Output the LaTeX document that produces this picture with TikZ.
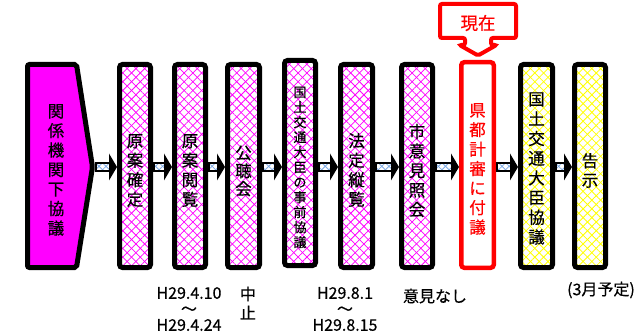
\documentclass[tikz,border=0pt]{standalone}
\usepackage{fontspec}
\setmainfont{Noto Sans CJK JP}[FakeBold=0.5]
\usetikzlibrary{patterns.meta,calc}
\definecolor{mag}{RGB}{255,0,255}
\definecolor{yel}{RGB}{255,255,0}
\definecolor{arrblue}{RGB}{125,170,230}
\newcommand\blockarrow[2]{%
  \coordinate (as) at ($(#1 |- ay)+(1,0)$);
  \coordinate (at) at (#2 |- ay);
  \draw[arrshaft] ($(as)+(0,-3.8)$) rectangle ($(at)+(-7,3.8)$);
  \fill[black] ($(at)+(-8,-13.5)$) -- (at) -- ($(at)+(-8,13.5)$) -- cycle;
}
\begin{document}
\begin{tikzpicture}[x=1pt,y=-1pt,
  patmag/.style={preaction={fill=white},
    preaction={pattern={Lines[angle=45,distance=6.2pt,line width=0.75pt]},pattern color=mag},
    preaction={pattern={Lines[angle=-45,distance=6.2pt,line width=0.75pt]},pattern color=mag}},
  patyel/.style={preaction={fill=white},
    preaction={pattern={Lines[angle=45,distance=6.2pt,line width=0.8pt]},pattern color=yel},
    preaction={pattern={Lines[angle=-45,distance=6.2pt,line width=0.8pt]},pattern color=yel}},
  arrshaft/.style={draw=black,line width=2.5pt,preaction={fill=white},
    preaction={pattern={Lines[angle=45,distance=5pt,line width=0.8pt]},pattern color=arrblue},
    preaction={pattern={Lines[angle=-45,distance=5pt,line width=0.8pt]},pattern color=arrblue}},
  vbox/.style={draw=black,line width=5pt,rounded corners=3pt,minimum width=31pt,
    minimum height=203pt,inner sep=0pt},
  vtxt/.style={inner sep=0pt,align=center,font=\fontsize{16.5pt}{19.5pt}\selectfont},
  lab/.style={inner sep=0pt,align=center,font=\fontsize{16pt}{16pt}\selectfont}
]
\useasboundingbox (0,0) rectangle (644,336);
\coordinate (ay) at (0,167);
% pentagon
\draw[line width=5pt,fill=mag,rounded corners=2pt] (27.5,64.5) -- (76.5,64.5) -- (92.5,167) -- (76.5,267.5) -- (27.5,267.5) -- cycle;
\coordinate (p1tip) at (95,167);
\node[vtxt] (t1) at (56,170) {関\\係\\機\\関\\下\\協\\議};
% boxes
\node[vbox,patmag] (b2) at (135,166) {};
\node[vbox,patmag] (b3) at (190,166) {};
\node[vbox,patmag,minimum width=32pt] (b4) at (243.5,166) {};
\node[vbox,patmag,minimum height=205pt] (b5) at (300,163) {};
\node[vbox,patmag,minimum width=32pt] (b6) at (356.5,166) {};
\node[vbox,patmag] (b7) at (417,166) {};
\node[vbox,draw=red,fill=white,line width=4.5pt,minimum width=32.5pt,minimum height=205.5pt] (b8) at (477.5,165) {};
\node[vbox,patyel,minimum width=32pt] (b9) at (536.5,166) {};
\node[vbox,patyel] (b10) at (590,166) {};
% box texts
\node[vtxt] (t2) at ($(b2.center)+(0,4.5)$) {原\\案\\確\\定};
\node[vtxt] (t3) at ($(b3.center)+(0,4.5)$) {原\\案\\閲\\覧};
\node[vtxt,font=\fontsize{16.5pt}{18pt}\selectfont] (t4) at ($(b4.center)+(0,5)$) {公\\聴\\会};
\node[vtxt,font=\fontsize{13pt}{15pt}\selectfont] (t5) at ($(b5.center)+(0,4.5)$) {国\\土\\交\\通\\大\\臣\\の\\事\\前\\協\\議};
\node[vtxt] (t6) at ($(b6.center)+(0,4)$) {法\\定\\縦\\覧};
\node[vtxt] (t7) at ($(b7.center)+(0,4.5)$) {市\\意\\見\\照\\会};
\node[vtxt,text=red] (t8) at ($(b8.center)+(0,4)$) {県\\都\\計\\審\\に\\付\\議};
\node[vtxt,font=\fontsize{16.5pt}{19.7pt}\selectfont] (t9) at ($(b9.center)+(0,2.5)$) {国\\土\\交\\通\\大\\臣\\協\\議};
\node[vtxt] (t10) at ($(b10.center)+(0,4.5)$) {告\\示};
% arrows
\blockarrow{p1tip}{b2.west}
\blockarrow{b2.east}{b3.west}
\blockarrow{b3.east}{b4.west}
\blockarrow{b4.east}{b5.west}
\blockarrow{b5.east}{b6.west}
\blockarrow{b6.east}{b7.west}
\blockarrow{b7.east}{b8.west}
\blockarrow{b8.east}{b9.west}
\blockarrow{b9.east}{b10.west}
% callout
\draw[red,line width=4pt,fill=white,rounded corners=2pt] (440,4) -- (516,4) -- (516,38) -- (491,38) -- (491,45) -- (496.5,45) -- (478,55.5) -- (459.5,45) -- (465,45) -- (465,38) -- (440,38) -- cycle;
\node[text=red,inner sep=0pt,font=\fontsize{17.5pt}{17.5pt}\selectfont] (now) at (478,23) {現在};
% labels
\node[lab] (d3) at (189,309) {H29.4.10\\〜\\H29.4.24};
\node[lab,font=\fontsize{16pt}{19pt}\selectfont] (d4) at (248,303) {中\\止};
\node[lab] (d6) at (345,309) {H29.8.1\\〜\\H29.8.15};
\node[lab] (d7) at (435,296) {意見なし};
\node[lab] (d10) at (601,290) {(3月予定)};
\end{tikzpicture}
\end{document}
